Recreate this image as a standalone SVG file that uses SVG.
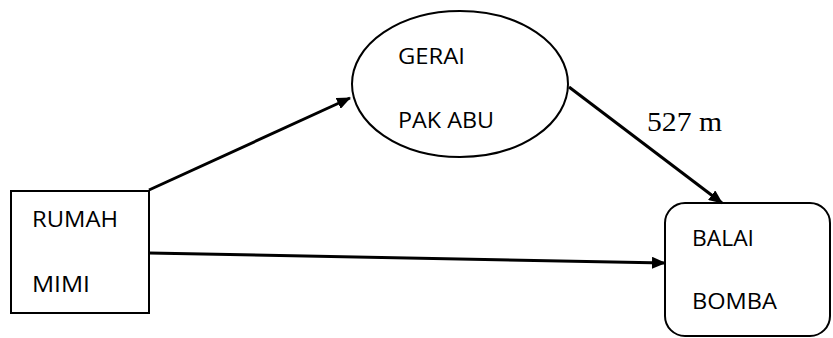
<svg xmlns="http://www.w3.org/2000/svg" width="833" height="338" viewBox="0 0 833 338">
<style>
.shape{fill:#fff;stroke:#000;stroke-width:2}
.lbl{font-family:"Open Sans","Liberation Sans",Arial,sans-serif;font-size:21px;fill:#000}
.dist{font-family:"Liberation Serif","Times New Roman",serif;font-size:28px;fill:#000}
.edge{stroke:#000;stroke-width:3;fill:none}
</style>
<defs>
<marker id="ahb" viewBox="0 0 14 12" refX="13" refY="6" markerWidth="14" markerHeight="12" orient="auto" markerUnits="userSpaceOnUse">
<path d="M0,0 L14,6 L0,12 Z" fill="#000"/>
</marker>
</defs>
<g id="rumah-mimi">
<rect class="shape" x="11" y="191" width="138" height="122"/>
<text class="lbl" x="32" y="227" textLength="86" lengthAdjust="spacingAndGlyphs">RUMAH</text>
<text class="lbl" x="32" y="292" textLength="58" lengthAdjust="spacingAndGlyphs">MIMI</text>
</g>
<g id="gerai-pak-abu">
<ellipse class="shape" cx="460" cy="84" rx="108" ry="73"/>
<text class="lbl" x="398" y="64" textLength="67" lengthAdjust="spacingAndGlyphs">GERAI</text>
<text class="lbl" x="398" y="128" textLength="96" lengthAdjust="spacingAndGlyphs">PAK ABU</text>
</g>
<g id="balai-bomba">
<rect class="shape" x="665" y="203" width="165" height="133" rx="20" ry="20"/>
<text class="lbl" x="692" y="246" textLength="62" lengthAdjust="spacingAndGlyphs">BALAI</text>
<text class="lbl" x="692" y="309" textLength="85" lengthAdjust="spacingAndGlyphs">BOMBA</text>
</g>
<g id="connectors">
<line class="edge" x1="149" y1="190" x2="350" y2="98" marker-end="url(#ahb)"/>
<line class="edge" x1="569" y1="87" x2="722" y2="203" marker-end="url(#ahb)"/>
<line class="edge" x1="149" y1="253" x2="665" y2="263" marker-end="url(#ahb)"/>
<text class="dist" x="647" y="131" textLength="75" lengthAdjust="spacingAndGlyphs">527 m</text>
</g>
</svg>
